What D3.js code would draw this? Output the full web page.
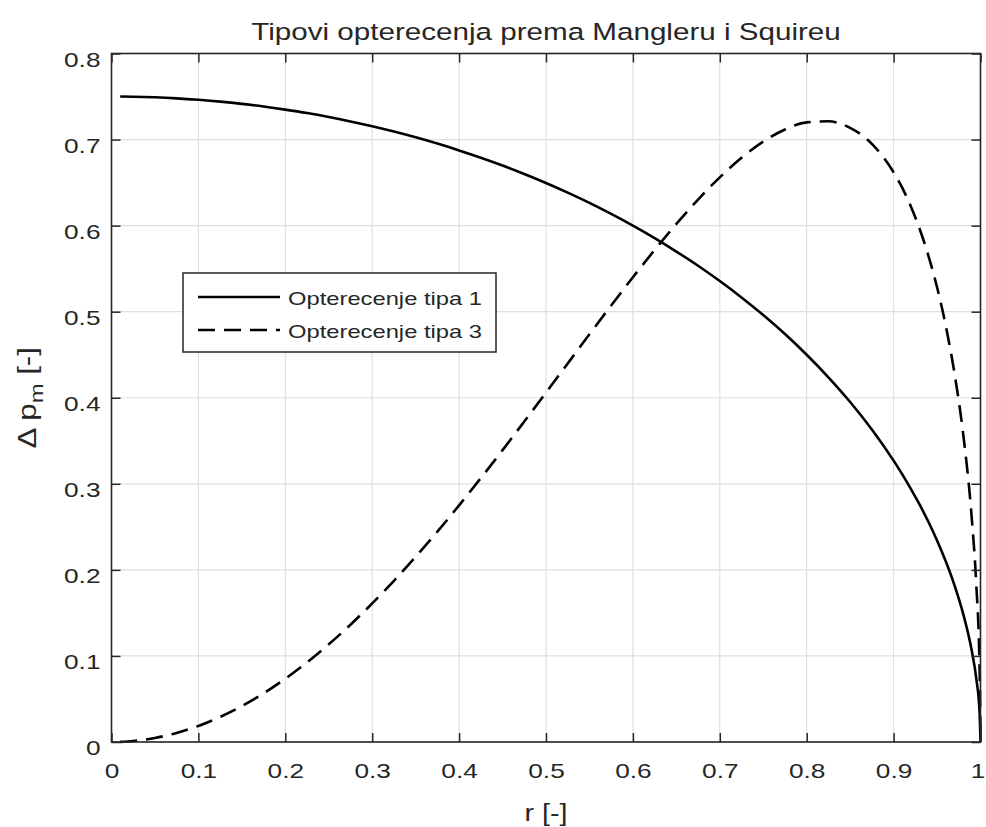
<!DOCTYPE html>
<html>
<head>
<meta charset="utf-8">
<script src="https://cdn.jsdelivr.net/npm/d3@7"></script>
<style>
  html, body { margin: 0; padding: 0; background: #ffffff; }
  svg { display: block; }
  text { font-family: "Liberation Sans", Arial, Helvetica, sans-serif; fill: #262626; }
</style>
</head>
<body>
<svg id="chart" width="986" height="827"></svg>
<script>
// ---- Data ----
const rValues = [0.01, 0.025, 0.05, 0.075, 0.1, 0.125, 0.15, 0.175, 0.2, 0.225, 0.25, 0.275, 0.3, 0.325, 0.35, 0.375, 0.4, 0.425, 0.45, 0.475, 0.5, 0.525, 0.55, 0.575, 0.6, 0.625, 0.65, 0.675, 0.7, 0.725, 0.75, 0.775, 0.8, 0.825, 0.85, 0.875, 0.9, 0.91, 0.92, 0.93, 0.94, 0.95, 0.96, 0.97, 0.98, 0.99, 0.995, 0.999, 1.0];
const load1 = [0.7500, 0.7498, 0.7491, 0.7479, 0.7462, 0.7441, 0.7415, 0.7384, 0.7348, 0.7308, 0.7262, 0.7211, 0.7155, 0.7093, 0.7026, 0.6953, 0.6874, 0.6789, 0.6698, 0.6600, 0.6495, 0.6383, 0.6264, 0.6136, 0.6000, 0.5855, 0.5699, 0.5534, 0.5356, 0.5166, 0.4961, 0.4740, 0.4500, 0.4238, 0.3951, 0.3631, 0.3269, 0.3110, 0.2939, 0.2757, 0.2559, 0.2342, 0.2100, 0.1823, 0.1492, 0.1058, 0.0749, 0.0335, 0.0];
const load3 = [0.0002, 0.0012, 0.0047, 0.0105, 0.0187, 0.0291, 0.0417, 0.0565, 0.0735, 0.0925, 0.1135, 0.1363, 0.1610, 0.1873, 0.2152, 0.2444, 0.2750, 0.3066, 0.3391, 0.3723, 0.4060, 0.4399, 0.4737, 0.5072, 0.5400, 0.5717, 0.6020, 0.6303, 0.6561, 0.6788, 0.6976, 0.7117, 0.7200, 0.7212, 0.7136, 0.6950, 0.6620, 0.6438, 0.6220, 0.5961, 0.5652, 0.5284, 0.4838, 0.4289, 0.3584, 0.2592, 0.1854, 0.0837, 0.0];
const seriesNames = ["Opterecenje tipa 1", "Opterecenje tipa 3"];
const xTicks = [0, 0.1, 0.2, 0.3, 0.4, 0.5, 0.6, 0.7, 0.8, 0.9, 1];
const yTicks = [0, 0.1, 0.2, 0.3, 0.4, 0.5, 0.6, 0.7, 0.8];
const xTickLabels = ["0", "0.1", "0.2", "0.3", "0.4", "0.5", "0.6", "0.7", "0.8", "0.9", "1"];
const yTickLabels = ["0", "0.1", "0.2", "0.3", "0.4", "0.5", "0.6", "0.7", "0.8"];
const titleText = "Tipovi opterecenja prema Mangleru i Squireu";

// ---- Layout ----
const L = 111.5, R = 980.5, T = 53.5, B = 742;
const SX = 1.25; // horizontal stretch of glyphs as in the reference
const axisColor = "#262626";
const gridColor = "#dfdfdf";

const svg = d3.select("#chart");
svg.append("rect").attr("width", 986).attr("height", 827).attr("fill", "#ffffff");

const x = d3.scaleLinear().domain([0, 1]).range([L, R]);
const y = d3.scaleLinear().domain([0, 0.8]).range([B, T]);

// plot background
svg.append("rect").attr("x", L).attr("y", T).attr("width", R - L).attr("height", B - T).attr("fill", "#ffffff");

// grid
const grid = svg.append("g");
grid.selectAll("line.vx").data(xTicks).join("line")
  .attr("x1", d => x(d)).attr("x2", d => x(d)).attr("y1", T).attr("y2", B)
  .attr("stroke", gridColor).attr("stroke-width", 1.2);
grid.selectAll("line.hy").data(yTicks).join("line")
  .attr("x1", L).attr("x2", R).attr("y1", d => y(d)).attr("y2", d => y(d))
  .attr("stroke", gridColor).attr("stroke-width", 1.2);

// curves
const pts1 = rValues.map((r, i) => [r, load1[i]]);
const pts3 = rValues.map((r, i) => [r, load3[i]]);
const line = d3.line().x(d => x(d[0])).y(d => y(d[1])).curve(d3.curveMonotoneX);

svg.append("path").datum(pts1).attr("d", line)
  .attr("fill", "none").attr("stroke", "#000").attr("stroke-width", 2.6).attr("stroke-linejoin", "round");
svg.append("path").datum(pts3).attr("d", line)
  .attr("fill", "none").attr("stroke", "#000").attr("stroke-width", 2.6)
  .attr("stroke-dasharray", "17,9");

// axes (inward ticks on all four sides)
function styleAxis(g) {
  g.select(".domain").remove();
  g.selectAll(".tick line").attr("stroke", axisColor).attr("stroke-width", 1.5);
}
const fontTick = 21;

const gx = svg.append("g").attr("transform", `translate(0,${B})`)
  .call(d3.axisBottom(x).tickValues(xTicks).tickSize(-9).tickFormat((d, i) => xTickLabels[i]));
styleAxis(gx);
gx.selectAll(".tick text").attr("y", 0).attr("dy", 0)
  .attr("transform", (d, i) => `translate(${i === xTicks.length - 1 ? -3 : 0},36) scale(${SX},1)`)
  .attr("font-size", fontTick).attr("fill", axisColor).attr("font-family", "Liberation Sans, Arial, sans-serif");

const gxt = svg.append("g").attr("transform", `translate(0,${T})`)
  .call(d3.axisTop(x).tickValues(xTicks).tickSize(-9).tickFormat(""));
styleAxis(gxt);

const gy = svg.append("g").attr("transform", `translate(${L},0)`)
  .call(d3.axisLeft(y).tickValues(yTicks).tickSize(-9).tickFormat((d, i) => yTickLabels[i]));
styleAxis(gy);
gy.selectAll(".tick text").attr("x", 0).attr("dy", 0).attr("text-anchor", "end")
  .attr("transform", `translate(-11,12.5) scale(${SX},1)`)
  .attr("font-size", fontTick).attr("fill", axisColor).attr("font-family", "Liberation Sans, Arial, sans-serif");

const gyr = svg.append("g").attr("transform", `translate(${R},0)`)
  .call(d3.axisRight(y).tickValues(yTicks).tickSize(-9).tickFormat(""));
styleAxis(gyr);

// box
svg.append("rect").attr("x", L).attr("y", T).attr("width", R - L).attr("height", B - T)
  .attr("fill", "none").attr("stroke", axisColor).attr("stroke-width", 1.6);

// title
svg.append("text")
  .attr("transform", `translate(${(L + R) / 2},40) scale(1.26,1)`)
  .attr("text-anchor", "middle").attr("font-size", 23.5).text(titleText);

// x label
svg.append("text")
  .attr("transform", `translate(${(L + R) / 2},821) scale(${SX},1)`)
  .attr("text-anchor", "middle").attr("font-size", 23).text("r [-]");

// y label
const yl = svg.append("text")
  .attr("transform", `translate(36,${(T + B) / 2}) rotate(-90) scale(1.25,1)`)
  .attr("text-anchor", "middle").attr("font-size", 25);
yl.append("tspan").text("Δ p");
yl.append("tspan").attr("font-size", 19).attr("dy", 7).text("m");
yl.append("tspan").attr("dy", -7).text(" [-]");

// legend
const lg = svg.append("g");
lg.append("rect").attr("x", 183).attr("y", 273).attr("width", 313).attr("height", 79)
  .attr("fill", "#ffffff").attr("stroke", axisColor).attr("stroke-width", 1.5);
const legRows = [
  { name: seriesNames[0], dash: null, yy: 297 },
  { name: seriesNames[1], dash: "17,9", yy: 330 }
];
legRows.forEach(r => {
  lg.append("line").attr("x1", 198).attr("x2", 280).attr("y1", r.yy).attr("y2", r.yy)
    .attr("stroke", "#000").attr("stroke-width", 2.6)
    .attr("stroke-dasharray", r.dash);
  lg.append("text").attr("transform", `translate(288,${r.yy + 8}) scale(${SX},1)`)
    .attr("font-size", 19).text(r.name);
});
</script>
</body>
</html>
